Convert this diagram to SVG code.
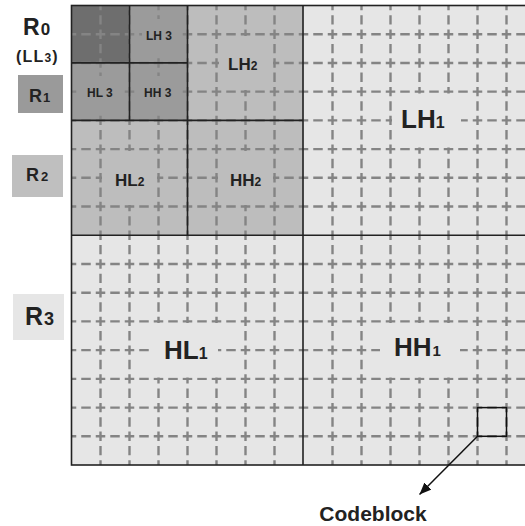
<svg xmlns="http://www.w3.org/2000/svg" width="525" height="526" viewBox="0 0 525 526">
<defs>
<style>
.t{font-family:"Liberation Sans",Arial,sans-serif;font-weight:bold;fill:#222}
.gh{stroke:#848484;stroke-width:2.4;fill:none;stroke-dasharray:9.5 5;stroke-dashoffset:4.75}
.gv{stroke:#848484;stroke-width:2.4;fill:none;stroke-dasharray:9.4 4.96;stroke-dashoffset:4.7}
.s{stroke:#222;stroke-width:1.6;fill:none}
.l1{fill:#e6e6e6}
.l2{fill:#bdbdbd}
.l3{fill:#9b9b9b}
</style>
<marker id="ah" viewBox="0 0 12 10" refX="12" refY="5" markerWidth="12" markerHeight="10" markerUnits="userSpaceOnUse" orient="auto">
<path d="M0,0 L12,5 L0,10 z" fill="#111"/>
</marker>
</defs>
<rect width="525" height="526" fill="#fff"/>

<g id="fills">
<rect class="l1" x="71.5" y="5.5" width="464" height="459.5"/>
<rect class="l2" x="71.5" y="5.5" width="232" height="229.8"/>
<rect class="l3" x="71.5" y="5.5" width="116" height="114.9"/>
<rect fill="#6e6e6e" x="71.5" y="5.5" width="58" height="57.4"/>
</g>

<g id="grid">
<path class="gh" d="M71.5,34.22H535.5M71.5,62.94H535.5M71.5,91.66H535.5M71.5,120.38H535.5M71.5,149.1H535.5M71.5,177.82H535.5M71.5,206.54H535.5M71.5,264H535.5M71.5,292.7H535.5M71.5,321.42H535.5M71.5,350.14H535.5M71.5,378.86H535.5M71.5,407.58H535.5M71.5,436.3H535.5"/>
<path class="gv" d="M100.5,5.5V465M129.5,5.5V465M158.5,5.5V465M187.5,5.5V465M216.5,5.5V465M245.5,5.5V465M274.5,5.5V465M332.5,5.5V465M361.5,5.5V465M390.5,5.5V465M419.5,5.5V465M448.5,5.5V465M477.5,5.5V465M506.5,5.5V465"/>
</g>

<g id="LH3">
<rect class="l3" x="142" y="19" width="39" height="37"/>
<text class="t" x="146" y="39.5" font-size="12">LH 3</text>
</g>
<g id="HL3">
<rect class="l3" x="81" y="76" width="40" height="36"/>
<text class="t" x="87" y="97" font-size="12">HL 3</text>
</g>
<g id="HH3">
<rect class="l3" x="138" y="76" width="42" height="36"/>
<text class="t" x="144" y="97" font-size="12">HH 3</text>
</g>
<g id="LH2">
<rect class="l2" x="219" y="36" width="54" height="54"/>
<text class="t" x="228" y="70" font-size="17">LH<tspan font-size="12">2</tspan></text>
</g>
<g id="HL2">
<rect class="l2" x="102" y="151" width="55" height="54"/>
<text class="t" x="115" y="186" font-size="17">HL<tspan font-size="12">2</tspan></text>
</g>
<g id="HH2">
<rect class="l2" x="218" y="151" width="55" height="54"/>
<text class="t" x="230" y="186" font-size="17">HH<tspan font-size="12">2</tspan></text>
</g>
<g id="LH1">
<rect class="l1" x="392" y="93.5" width="69" height="54"/>
<text class="t" x="401" y="128" font-size="26">LH<tspan font-size="16">1</tspan></text>
</g>
<g id="HL1">
<rect class="l1" x="150" y="323" width="68" height="54.5"/>
<text class="t" x="164" y="359" font-size="26">HL<tspan font-size="16">1</tspan></text>
</g>
<g id="HH1">
<rect class="l1" x="380" y="323" width="80" height="54.5"/>
<text class="t" x="394" y="356" font-size="26">HH<tspan font-size="15" dx="1">1</tspan></text>
</g>

<g id="borders">
<rect class="s" x="71.5" y="5.5" width="464" height="459.5"/>
<path class="s" d="M303,5.5V465M71.5,235.3H535.5M187.5,5.5V235.3M71.5,120.4H303M129.5,5.5V120.4M71.5,62.9H187.5"/>
</g>

<g id="R0">
<text class="t" x="23" y="35" font-size="23">R<tspan font-size="17" dx="1">0</tspan></text>
<text class="t" x="16" y="62" font-size="16" letter-spacing="1.2">(LL<tspan font-size="12">3</tspan>)</text>
</g>
<g id="R1">
<rect x="18" y="75" width="45" height="38" fill="#9a9a9a"/>
<text class="t" x="29" y="102" font-size="18">R<tspan font-size="13" dx="1">1</tspan></text>
</g>
<g id="R2">
<rect x="12" y="155" width="51" height="42" fill="#bfbfbf"/>
<text class="t" x="26" y="181" font-size="18">R<tspan font-size="13" dx="2">2</tspan></text>
</g>
<g id="R3">
<rect x="13" y="294" width="51" height="46" fill="#e6e6e6"/>
<text class="t" x="25" y="325" font-size="25" fill="#333">R<tspan font-size="18" dx="1">3</tspan></text>
</g>

<g id="codeblock">
<rect x="477.5" y="407.6" width="29" height="28.7" fill="none" stroke="#111" stroke-width="1.5"/>
<text class="t" x="373" y="521" font-size="21" text-anchor="middle">Codeblock</text>
</g>

<g id="connectors">
<line x1="477.5" y1="436.3" x2="419.5" y2="494.5" stroke="#111" stroke-width="1.5" marker-end="url(#ah)"/>
</g>
</svg>
